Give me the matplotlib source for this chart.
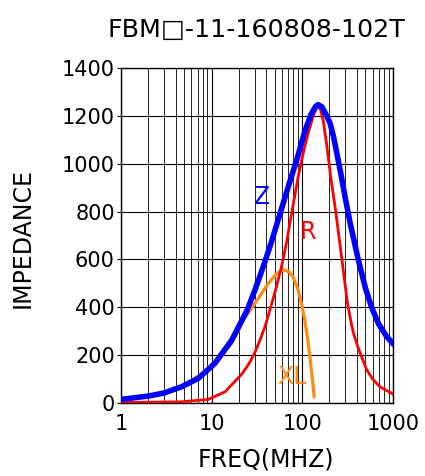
import numpy as np
import matplotlib.pyplot as plt
from matplotlib.ticker import LogLocator, NullFormatter, FixedLocator

## DATA (freq in MHz, impedance in ohm)
z_freq = [1, 2, 3, 4.67, 7.13, 10.9, 16.7, 24.5, 30, 38, 46, 59, 70, 88, 107, 125, 140,
          150, 165, 180, 203, 220, 240, 273, 300, 340, 416, 500, 585, 700, 850, 1000]
z_val = [15, 29, 42, 68, 103, 166, 263, 385, 470, 580, 675, 810, 902, 1021, 1135, 1205, 1238,
         1247, 1238, 1212, 1170, 1120, 1050, 940, 855, 750, 600, 480, 400, 330, 280, 249]

r_freq = [1, 4.67, 9.2, 14.1, 21.5, 26, 30, 34, 39, 45, 52, 60, 68, 78, 92, 105, 117, 135,
          150, 160, 171, 186, 206, 235, 278, 316, 350, 373, 408, 446, 515, 600, 722, 1000]
r_val = [2, 5, 15, 47, 120, 165, 210, 260, 320, 400, 485, 580, 680, 810, 960, 1060, 1130, 1210,
         1242, 1225, 1180, 1085, 950, 800, 585, 420, 330, 285, 240, 200, 140, 100, 68, 38]

xl_freq = [1, 2, 4.67, 10.9, 16.7, 22.4, 30.1, 36, 42.3, 52, 62, 72, 80, 90, 100, 107,
           115, 122, 130, 136]
xl_val = [14, 28, 66, 160, 250, 346, 416, 460, 500, 540, 557, 548, 525, 475, 405, 345,
          270, 190, 100, 20]

x_ticks = [1, 10, 100, 1000]
y_ticks = [0, 200, 400, 600, 800, 1000, 1200, 1400]

title = 'FBM\u25a1-11-160808-102T'

###################### PLOT #############################
plt.rcParams['font.family'] = ['DejaVu Sans']

fig = plt.figure(figsize=(4.25, 4.76), dpi=100)
ax = fig.add_axes([121 / 425, 1 - 403 / 476, (392.7 - 121) / 425, (403 - 68) / 476])

ax.plot(xl_freq, xl_val, color='#ff8a10', lw=2.3, zorder=3,
        solid_joinstyle='round', solid_capstyle='butt')
ax.plot(r_freq, r_val, color='#ff0000', lw=2.0, zorder=4, solid_joinstyle='round')
ax.plot(z_freq, z_val, color='#0000ff', lw=4.0, zorder=5, solid_joinstyle='round')

ax.set_xscale('log')
ax.set_xlim(1, 1000)
ax.set_ylim(0, 1400)
ax.xaxis.set_major_locator(FixedLocator(x_ticks))
ax.xaxis.set_minor_locator(LogLocator(base=10, subs=np.arange(2, 10)))
ax.xaxis.set_minor_formatter(NullFormatter())
ax.set_xticklabels([str(t) for t in x_ticks])
ax.set_yticks(y_ticks)

ax.grid(True, which='major', color='black', lw=0.8)
ax.grid(True, which='minor', axis='x', color='#222222', lw=0.7)
for s in ax.spines.values():
    s.set_color('black')
    s.set_linewidth(1.0)

ax.tick_params(axis='x', which='both', length=0, labelsize=15, pad=8)
ax.tick_params(axis='y', length=3, labelsize=15, pad=1.5)

# curve labels
ax.text(36, 860, 'Z', color='#0000ff', fontsize=17, ha='center', va='center')
ax.text(116, 714, 'R', color='#ff0000', fontsize=17, ha='center', va='center')
ax.text(78, 109, 'XL', color='#ff8a10', fontsize=17, ha='center', va='center')

fig.text(265.5 / 425, 1 - 459 / 476, 'FREQ(MHZ)', fontsize=17, ha='center', va='center')
fig.text(23 / 425, 1 - 237.5 / 476, 'IMPEDANCE', fontsize=17, ha='center', va='center',
         rotation=90)
fig.text(256 / 425, 1 - 30 / 476, title, fontsize=18.3, ha='center', va='center')

fig.savefig('out.png', dpi=100)
